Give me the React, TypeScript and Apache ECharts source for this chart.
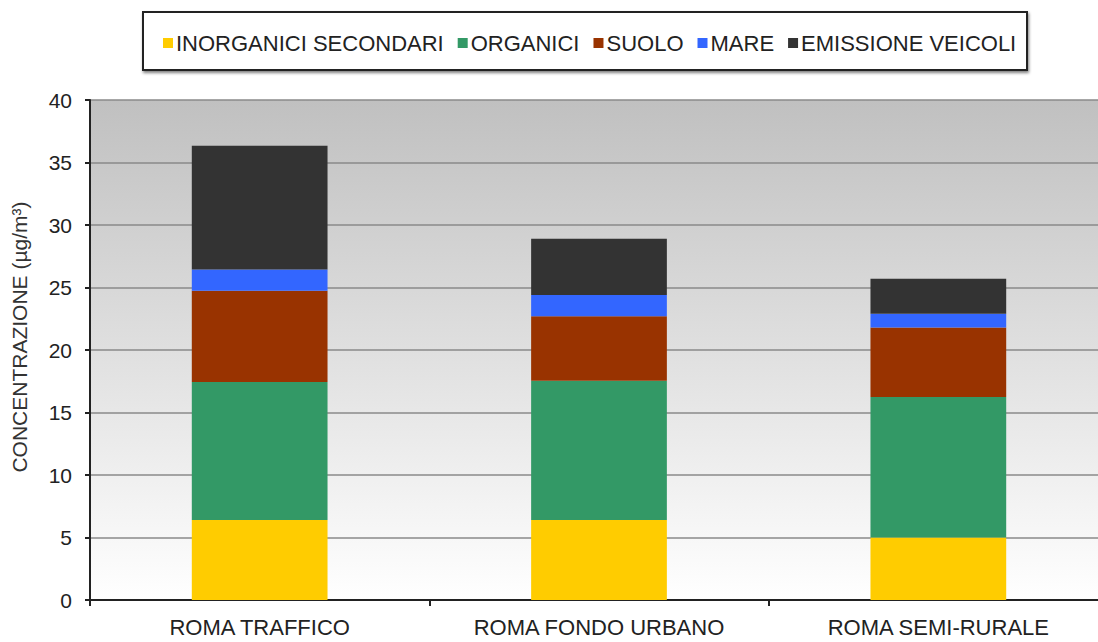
import React, { useEffect, useRef } from "react";
import * as echarts from "echarts";

const categories = ["ROMA TRAFFICO", "ROMA FONDO URBANO", "ROMA SEMI-RURALE"];
const seriesNames = ["INORGANICI SECONDARI", "ORGANICI", "SUOLO", "MARE", "EMISSIONE VEICOLI"];
const inorganici = [6.4, 6.4, 5.0];
const organici = [11.05, 11.15, 11.25];
const suolo = [7.3, 5.15, 5.55];
const mare = [1.7, 1.7, 1.1];
const veicoli = [9.9, 4.5, 2.8];
const colors = ["#FFCC00", "#339966", "#993300", "#3366FF", "#333333"];
const yTicks = { min: 0, max: 40, interval: 5 };

const FONT = "'Liberation Sans', Arial, sans-serif";

export default function App() {
  const ref = useRef<HTMLDivElement>(null);
  useEffect(() => {
    document.body.style.margin = "0";
    const chart = echarts.init(ref.current!, undefined, { renderer: "svg" });
    const values = [inorganici, organici, suolo, mare, veicoli];
    chart.setOption({
      animation: false,
      backgroundColor: "#ffffff",
      graphic: [
        {
          type: "rect",
          shape: { x: 143, y: 12, width: 884, height: 58 },
          style: {
            fill: "#ffffff",
            stroke: "#222222",
            lineWidth: 2,
            shadowBlur: 3,
            shadowColor: "rgba(0,0,0,0.5)",
            shadowOffsetX: 1,
            shadowOffsetY: 2,
          },
          z: -1,
        },
      ],
      legend: {
        top: 27,
        left: 158,
        data: seriesNames,
        itemWidth: 10,
        itemHeight: 10,
        itemGap: 14,
        icon: "rect",
        textStyle: { fontFamily: FONT, fontSize: 22, color: "#222", padding: [0, 0, 0, -2] },
      },
      grid: {
        left: 90,
        width: 1018,
        top: 100,
        bottom: 42,
        outerBoundsMode: "none",
        containLabel: false,
        show: true,
        borderWidth: 0,
        backgroundColor: new echarts.graphic.LinearGradient(0, 0, 0, 1, [
          { offset: 0, color: "#c0c0c0" },
          { offset: 1, color: "#ffffff" },
        ]),
      },
      xAxis: {
        type: "category",
        data: categories,
        axisLine: { lineStyle: { color: "#222", width: 2 } },
        axisTick: { show: true, length: 6, lineStyle: { color: "#222", width: 2 } },
        axisLabel: { fontFamily: FONT, fontSize: 22, color: "#222", margin: 16 },
      },
      yAxis: {
        type: "value",
        min: yTicks.min,
        max: yTicks.max,
        interval: yTicks.interval,
        name: "CONCENTRAZIONE (µg/m³)",
        nameLocation: "middle",
        nameGap: 60,
        nameTextStyle: { fontFamily: FONT, fontSize: 21, color: "#333", padding: [0, 0, 0, 26] },
        axisLine: { show: true, lineStyle: { color: "#222", width: 2 } },
        axisTick: { show: true, length: 5, lineStyle: { color: "#222", width: 2 } },
        axisLabel: { fontFamily: FONT, fontSize: 21, color: "#222", margin: 18 },
        splitLine: { lineStyle: { color: "#8a8a8a", width: 1.5 } },
      },
      series: seriesNames.map((name, i) => ({
        name,
        type: "bar",
        stack: "total",
        barWidth: "40%",
        data: values[i],
        itemStyle: { color: colors[i] },
      })),
    });
    return () => chart.dispose();
  }, []);
  return <div ref={ref} style={{ width: 1098, height: 642 }} />;
}
